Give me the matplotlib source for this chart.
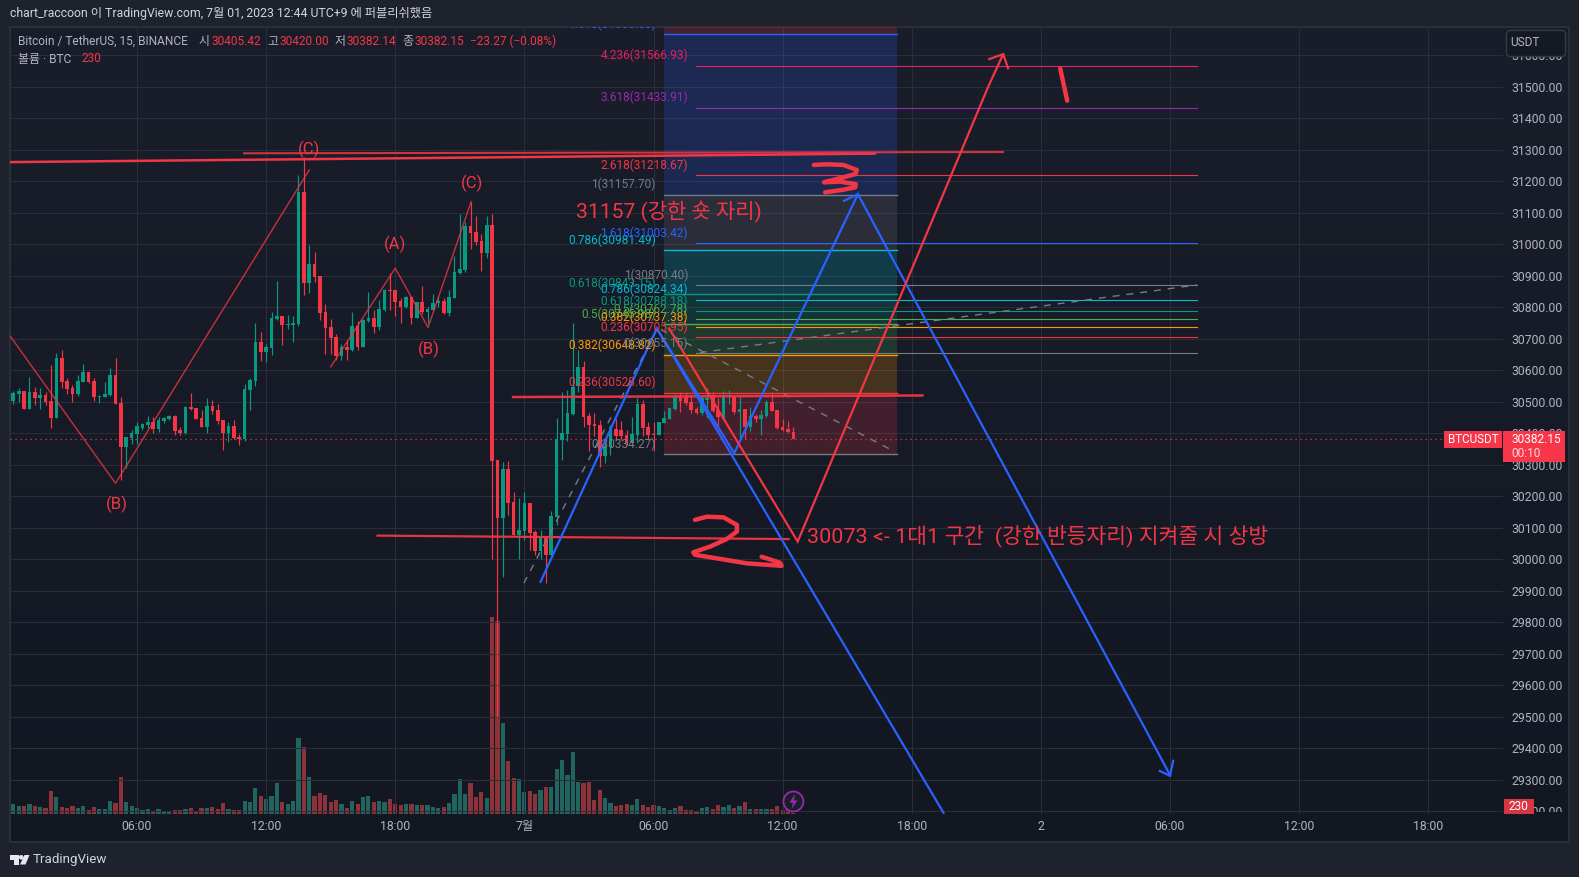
#!/usr/bin/env python
# coding: utf-8

import numpy as np
from matplotlib import pyplot as plt
from matplotlib.colors import to_rgb
from matplotlib.patches import Circle, FancyBboxPatch, Polygon, Rectangle

W, H = 1579, 877
BG_OUTER = '#1e222d'
UP = '#089981'
DOWN = '#f23645'
UP_VOL = '#22655f'
DOWN_VOL = '#8c3339'
GREY = '#787b86'
TEXT = '#b2b5be'
BLUE = '#2962ff'
FONT = ['Roboto', 'Noto Sans CJK KR', 'DejaVu Sans']

opens = [30502, 30525, 30534, 30477, 30531, 30512, 30521, 30502, 30448, 30639, 30566, 30544, 30525, 30563, 30594, 30566,
         30515, 30515, 30521, 30585, 30496, 30356, 30385, 30398, 30417, 30426, 30436, 30414, 30439, 30445, 30455, 30410,
         30401, 30483, 30480, 30448, 30420, 30487, 30474, 30442, 30401, 30423, 30388, 30382, 30537, 30566, 30690, 30658,
         30671, 30763, 30772, 30744, 30744, 30747, 31166, 30877, 30937, 30899, 30785, 30737, 30706, 30645, 30674, 30664,
         30741, 30674, 30757, 30766, 30737, 30791, 30855, 30855, 30820, 30801, 30833, 30766, 30817, 30785, 30791, 30814,
         30820, 30782, 30829, 30909, 30918, 31058, 31039, 31010, 30972, 31061, 30316, 30131, 30287, 30182, 30077, 30090,
         30179, 30087, 30027, 30068, 30014, 30134, 30379, 30398, 30462, 30551, 30611, 30455, 30429, 30426, 30328, 30355,
         30413, 30410, 30394, 30368, 30394, 30493, 30420, 30398, 30394, 30433, 30445, 30477, 30518, 30516, 30498, 30477,
         30463, 30506, 30516, 30474, 30445, 30514, 30516, 30468, 30477, 30421, 30455, 30445, 30455, 30499, 30474, 30419,
         30413, 30405.42]
highs = [30534, 30544, 30534, 30579, 30547, 30544, 30531, 30617, 30655, 30664, 30575, 30553, 30585, 30620, 30594, 30575,
         30521, 30563, 30607, 30639, 30515, 30388, 30410, 30436, 30433, 30455, 30452, 30452, 30452, 30458, 30458, 30420,
         30487, 30528, 30480, 30474, 30512, 30506, 30493, 30442, 30436, 30442, 30398, 30556, 30575, 30750, 30721, 30683,
         30785, 30883, 30772, 30776, 30772, 31220, 31277, 30998, 30975, 30899, 30810, 30763, 30715, 30683, 30696, 30785,
         30757, 30763, 30849, 30791, 30823, 30858, 30909, 30855, 30829, 30836, 30836, 30817, 30868, 30801, 30842, 30836,
         30829, 30855, 30963, 31096, 31071, 31134, 31090, 31033, 31090, 31096, 30316, 30309, 30312, 30214, 30195, 30214,
         30179, 30093, 30093, 30068, 30154, 30448, 30531, 30537, 30751, 30665, 30630, 30463, 30463, 30442, 30368, 30426,
         30445, 30439, 30410, 30452, 30512, 30506, 30436, 30436, 30436, 30471, 30480, 30525, 30531, 30529, 30518, 30484,
         30521, 30544, 30531, 30511, 30535, 30537, 30516, 30516, 30477, 30484, 30460, 30474, 30506, 30530, 30474, 30445,
         30439, 30420.00]
lows = [30493, 30499, 30477, 30477, 30490, 30477, 30490, 30417, 30448, 30544, 30525, 30499, 30518, 30563, 30560, 30502,
        30496, 30515, 30518, 30493, 30252, 30290, 30366, 30366, 30410, 30417, 30401, 30404, 30433, 30442, 30394, 30394,
        30398, 30474, 30445, 30420, 30401, 30461, 30429, 30347, 30372, 30382, 30363, 30375, 30474, 30550, 30629, 30626,
        30648, 30760, 30680, 30731, 30690, 30741, 30839, 30845, 30880, 30760, 30652, 30652, 30633, 30633, 30633, 30661,
        30664, 30674, 30753, 30718, 30728, 30788, 30791, 30772, 30750, 30798, 30747, 30766, 30779, 30750, 30791, 30801,
        30779, 30772, 30829, 30906, 30912, 30985, 30998, 30915, 30956, 30001, 29500, 29944, 30141, 30077, 30001, 30062,
        30030, 30014, 30001, 29925, 30014, 30109, 30315, 30375, 30459, 30530, 30420, 30344, 30391, 30292, 30307, 30331,
        30381, 30379, 30363, 30368, 30368, 30391, 30379, 30344, 30394, 30431, 30445, 30474, 30468, 30490, 30463, 30461,
        30458, 30447, 30468, 30421, 30445, 30493, 30461, 30384, 30381, 30408, 30435, 30394, 30453, 30471, 30412, 30408,
        30402, 30382.14]
closes = [30528, 30534, 30477, 30531, 30512, 30521, 30499, 30448, 30639, 30563, 30541, 30525, 30566, 30594, 30563, 30515,
          30518, 30525, 30585, 30493, 30356, 30388, 30401, 30423, 30429, 30436, 30414, 30442, 30448, 30455, 30407, 30401,
          30483, 30477, 30445, 30420, 30487, 30471, 30439, 30401, 30423, 30385, 30382, 30541, 30569, 30690, 30658, 30674,
          30766, 30772, 30744, 30747, 30750, 31166, 30877, 30937, 30896, 30782, 30734, 30703, 30645, 30674, 30664, 30741,
          30674, 30760, 30766, 30737, 30795, 30855, 30852, 30817, 30801, 30833, 30766, 30817, 30785, 30795, 30814, 30820,
          30782, 30833, 30912, 30922, 31058, 31036, 31007, 30972, 31061, 30312, 30131, 30287, 30179, 30077, 30093, 30179,
          30084, 30027, 30068, 30014, 30138, 30382, 30401, 30464, 30547, 30611, 30452, 30426, 30423, 30328, 30358, 30420,
          30391, 30391, 30368, 30398, 30493, 30417, 30394, 30394, 30436, 30448, 30480, 30518, 30502, 30495, 30474, 30463,
          30512, 30512, 30471, 30453, 30514, 30516, 30466, 30477, 30421, 30455, 30445, 30458, 30500, 30471, 30416, 30410,
          30403, 30382.15]
volumes = [3000, 2400, 2400, 3000, 2400, 2000, 1800, 6900, 5100, 2100, 1800, 2400, 1800, 2400, 1200, 2100, 1500, 1500,
           3900, 3300, 11100, 3600, 2400, 1800, 1200, 1500, 900, 1500, 900, 900, 1200, 1200, 1500, 1800, 900, 1800, 1800,
           2100, 1500, 3300, 1500, 1200, 1200, 3900, 3600, 7800, 5400, 4500, 5400, 9300, 3600, 3000, 3900, 22800, 20100,
           11100, 5400, 6300, 5700, 3600, 4200, 3000, 1800, 3900, 3000, 5100, 5400, 3600, 3900, 3600, 4500, 3000, 2700,
           3000, 3000, 2700, 2700, 2700, 2100, 1800, 2100, 3300, 6000, 10500, 6000, 9300, 5100, 6600, 4800, 59100, 57900,
           27300, 15900, 10800, 10500, 6600, 6900, 6000, 7200, 8100, 8100, 13500, 16200, 11700, 18600, 9600, 9300, 9600,
           4200, 7200, 4800, 3300, 2400, 2700, 3000, 2700, 4500, 2700, 2100, 2700, 2400, 1800, 1200, 1800, 2400, 1200,
           1200, 900, 1800, 2100, 1500, 2700, 2100, 2700, 1800, 2400, 3600, 1500, 1500, 1500, 1500, 1500, 2400, 1200,
           1500, 230]

price_ticks = list(range(29200, 31700, 100))
time_ticks = [23, 47, 71, 95, 119, 143, 167, 191, 215, 239, 263]
time_labels = ['06:00', '12:00', '18:00', '7월', '06:00', '12:00', '18:00', '2', '06:00', '12:00', '18:00']

# fib retracement drawn over the late session
retr_levels = [0, 0.236, 0.382, 0.5, 0.618, 0.786, 1, 1.618, 2.618]
retr_prices = [30334.27, 30528.60, 30648.82, 30745.98, 30843.15, 30981.49, 31157.70, 31666.60, 32490.00]
retr_colors = [GREY, DOWN, '#ff9800', '#4caf50', UP, '#00bcd4', GREY, BLUE, DOWN]
retr_bars = [120.9, 164.2]

# fib extension
ext_levels = [0, 0.236, 0.382, 0.5, 0.618, 0.786, 1, 1.618, 2.618, 3.618, 4.236]
ext_prices = [30655.15, 30705.95, 30737.38, 30762.78, 30788.18, 30824.34, 30870.40, 31003.42, 31218.67, 31433.91, 31566.93]
ext_colors = [GREY, DOWN, '#ff9800', '#4caf50', UP, '#00bcd4', GREY, BLUE, DOWN, '#9c27b0', '#e91e63']
ext_bars = [126.9, 220.0]

# wave counts, thin red
wave1_x = [-0.6, 19.0, 55.0]
wave1_y = [30709, 30241, 31236]
wave2_x = [59.0, 71.0, 77.1, 85.1]
wave2_y = [30611, 30924, 30736, 31135]
wave_labels = ['(C)', '(C)', '(A)', '(B)', '(B)']
wave_label_x = [55.0, 85.2, 71.0, 77.3, 19.2]
wave_label_y = [31300, 31195, 31000, 30667, 30175]

# trend lines and scenario paths
top_line_x = [[-0.6, 160.2], [42.9, 184.0]]
top_line_y = [[31261, 31288], [31289, 31293]]
mid_line_x = [92.9, 169.0]
mid_line_y = [30515, 30520]
low_line_x = [67.7, 144.1]
low_line_y = [30075, 30064]
dash1_x = [94.9, 119.8, 163.9]
dash1_y = [29924, 30734, 30341]
dash2_x = [127.6, 220.0]
dash2_y = [30656, 30871]
blue_x = [98.0, 119.6, 134.0, 157.0, 215.0]
blue_y = [29928, 30733, 30337, 31159, 29315]
blue2_x = [119.6, 172.9]
blue2_y = [30733, 29195]
blue_barb_x = [213.1, 215.0, 215.6]
blue_barb_y = [29328, 29312, 29360]
blue_peak_x = [154.4, 157.0]
blue_peak_y = [31138, 31159]
red_x = [121.9, 145.8, 181.2, 184.0]
red_y = [30733, 30056, 31500, 31604]
red_barb_x = [181.4, 184.0, 184.9]
red_barb_y = [31588, 31604, 31559]

# freehand numbers
three_x = [148.8, 151.2, 154.3, 156.8, 156.5, 153.7, 150.7, 153.7, 156.6, 156.5, 154.2, 150.9]
three_y = [31252, 31254, 31252, 31236, 31223, 31210, 31197, 31199, 31191, 31181, 31173, 31165]
two_x = [126.7, 128.9, 132.0, 134.5, 134.5, 132.6, 129.5, 126.4, 126.7, 131.4, 136.3, 142.8, 142.5, 139.1]
two_y = [30125, 30135, 30133, 30109, 30088, 30064, 30040, 30022, 30014, 30001, 29987, 29979, 29989, 30008]
one_x = [194.6, 195.9]
one_y = [31558, 31456]


def main():
    fig = plt.figure(figsize=(W / 100, H / 100), dpi=100, facecolor=BG_OUTER)

    # backdrop with frame, in pixels
    bg = fig.add_axes([0, 0, 1, 1], zorder=0)
    top_c, bot_c = np.array(to_rgb('#1a1e2a')), np.array(to_rgb('#131722'))
    grad = np.linspace(0, 1, 256)[:, None, None] * (bot_c - top_c) + top_c
    bg.imshow(grad, extent=(10, 1569, 841, 27), aspect='auto', zorder=0)
    bg.add_patch(Rectangle((9.5, 26.5), 1559.5, 815, fill=False, ec='#2a2e39', lw=1.5, zorder=1))
    bg.set_xlim(0, W)
    bg.set_ylim(H, 0)
    bg.axis('off')

    rect = [10 / W, 1 - 814 / H, 1493 / W, 787 / H]

    vol = fig.add_axes(rect, zorder=1)
    vol.patch.set_visible(False)
    vol.axis('off')

    ax = fig.add_axes(rect, zorder=2, sharex=vol)
    ax.patch.set_visible(False)
    ax.set_xlim(-0.613, 276.9)
    ax.set_ylim(29191, 31690)
    for s in ax.spines.values():
        s.set_visible(False)
    ax.yaxis.tick_right()
    ax.set_yticks(price_ticks, [f'{p:.2f}' for p in price_ticks], fontsize=8.8, color=TEXT, family=FONT)
    ax.set_xticks(time_ticks, time_labels, fontsize=8.8, color=TEXT, family=FONT)
    ax.tick_params(axis='y', length=0, pad=5.8)
    ax.tick_params(axis='x', length=0, pad=4.6)
    ax.grid(True, color='#2a2e39', lw=0.75, zorder=0)
    ax.set_axisbelow(True)

    bars = np.arange(len(closes))
    colors = [UP if c >= o else DOWN for o, c in zip(opens, closes)]

    # volume pane along the bottom
    vol_colors = [UP_VOL if c >= o else DOWN_VOL for o, c in zip(opens, closes)]
    vol.bar(bars, volumes, width=0.78, color=vol_colors, lw=0)
    vol.set_ylim(0, 787 * 300)

    # fib retracement bands take the colour of their upper level
    for lo, hi, c in zip(retr_prices[:-1], retr_prices[1:], retr_colors[1:]):
        ax.fill_between(retr_bars, lo, hi, color=c, alpha=0.2, lw=0, zorder=1)
    for lvl, p, c in zip(retr_levels[:-1], retr_prices[:-1], retr_colors[:-1]):
        ax.plot(retr_bars, [p, p], color=c, lw=1.0, zorder=2)
        ax.annotate(f'{lvl:g}({p:.2f})', (retr_bars[0], p), xytext=(-8, 10), textcoords='offset pixels',
                    ha='right', va='center', color=c, fontsize=8.6, family=FONT, zorder=7, clip_on=True)

    # candles
    ax.vlines(bars, lows, highs, colors=colors, lw=0.85, zorder=3)
    body_lo = np.minimum(opens, closes)
    body_hi = np.maximum(opens, closes)
    ax.bar(bars, np.maximum(body_hi - body_lo, 3), bottom=body_lo, width=0.68, color=colors, lw=0, zorder=4)

    # last price line
    ax.axhline(closes[-1], color=DOWN, lw=0.9, ls=(0, (1, 3)), zorder=2)

    # fib extension
    for lvl, p, c in zip(ext_levels, ext_prices, ext_colors):
        ax.plot(ext_bars, [p, p], color=c, lw=0.8, zorder=5)
        ax.annotate(f'{lvl:g}({p:.2f})', (ext_bars[0], p), xytext=(-8, 10), textcoords='offset pixels',
                    ha='right', va='center', color=c, fontsize=8.6, family=FONT, zorder=7, clip_on=True)

    # dashed fib base lines
    ax.plot(dash1_x, dash1_y, color=GREY, lw=1.0, ls=(0, (5, 5)), zorder=5)
    ax.plot(dash2_x, dash2_y, color=GREY, lw=1.0, ls=(0, (5, 5)), zorder=5)

    # wave counts
    ax.plot(wave1_x, wave1_y, color=DOWN, lw=1.0, alpha=0.8, zorder=5)
    ax.plot(wave2_x, wave2_y, color=DOWN, lw=1.0, alpha=0.8, zorder=5)
    for t, x, y in zip(wave_labels, wave_label_x, wave_label_y):
        ax.text(x, y, t, color=DOWN, fontsize=12, ha='center', va='center', family=FONT, zorder=7)

    # support and resistance lines
    ax.plot(top_line_x[0], top_line_y[0], color=DOWN, lw=1.8, zorder=6, solid_capstyle='round')
    ax.plot(top_line_x[1], top_line_y[1], color=DOWN, lw=1.5, alpha=0.85, zorder=6)
    ax.plot(mid_line_x, mid_line_y, color=DOWN, lw=1.8, alpha=0.95, zorder=6)
    ax.plot(low_line_x, low_line_y, color=DOWN, lw=1.6, alpha=0.95, zorder=6)

    # scenario paths
    ax.plot(blue_x, blue_y, color=BLUE, lw=1.6, zorder=6, solid_joinstyle='miter')
    ax.plot(blue2_x, blue2_y, color=BLUE, lw=1.6, zorder=6)
    ax.plot(blue_barb_x, blue_barb_y, color=BLUE, lw=1.6, zorder=6)
    ax.plot(blue_peak_x, blue_peak_y, color=BLUE, lw=1.6, zorder=6)
    ax.plot(red_x, red_y, color=DOWN, lw=1.6, zorder=6, solid_joinstyle='miter')
    ax.plot(red_barb_x, red_barb_y, color=DOWN, lw=1.6, zorder=6)

    # freehand numbers
    ax.plot(three_x, three_y, color=DOWN, lw=3.2, zorder=7, solid_joinstyle='round', solid_capstyle='round')
    ax.plot(two_x, two_y, color=DOWN, lw=3.2, zorder=7, solid_joinstyle='round', solid_capstyle='round')
    ax.plot(one_x, one_y, color=DOWN, lw=3.2, zorder=7, solid_capstyle='round')

    ax.text(104.6, 31104, '31157 (강한 숏 자리)', color=DOWN, fontsize=15.1, va='center', family=FONT, zorder=7)
    ax.text(147.5, 30074, '30073 <- 1대1 구간  (강한 반등자리) 지켜줄 시 상방', color=DOWN, fontsize=15.45,
            va='center', family=FONT, zorder=7)

    # header, legend and tags in pixels
    top = fig.add_axes([0, 0, 1, 1], zorder=5)
    top.patch.set_visible(False)
    top.set_xlim(0, W)
    top.set_ylim(H, 0)
    top.axis('off')

    def label(x, y, s, color='#d1d4dc', size=8.6, ha='left'):
        top.text(x, y, s, color=color, fontsize=size, ha=ha, va='center', family=FONT)

    label(9.5, 14, 'chart_raccoon 이 TradingView.com, 7월 01, 2023 12:44 UTC+9 에 퍼블리쉬했음', size=8.85)
    label(17.9, 41.7, 'Bitcoin / TetherUS, 15, BINANCE', color=TEXT)
    for x, s in zip([199, 267, 334.6, 402.5], ['시', '고', '저', '종']):
        label(x, 41.7, s, color=TEXT)
    for x, s in zip([211.4, 279.3, 346.8, 414.3, 470],
                    [f'{opens[-1]:.2f}', f'{highs[-1]:.2f}', f'{lows[-1]:.2f}', f'{closes[-1]:.2f}', '−23.27 (−0.08%)']):
        label(x, 41.7, s, color=DOWN)
    label(17.9, 59, '볼륨 · BTC', color=TEXT)
    label(82, 59, f'{volumes[-1]}', color=DOWN)

    # covers the price scale below the pane
    top.add_patch(Rectangle((1503, 812), 65, 28, fc='#131722', ec='none'))

    top.add_patch(FancyBboxPatch((1509, 33), 54, 21, boxstyle='round,pad=2.5,rounding_size=4', fc='#151924', ec='#363a45', lw=1))
    label(1510, 43, 'USDT', color=TEXT)

    top.add_patch(Rectangle((1444, 431), 58, 17, fc='#f7364a', ec='none'))
    label(1473, 439.5, 'BTCUSDT', color='white', size=8.4, ha='center')
    top.add_patch(Rectangle((1503, 431), 62, 31, fc='#f7364a', ec='none'))
    label(1511, 439.5, f'{closes[-1]:.2f}', color='white')
    label(1511, 453.5, '00:10', color='#ffd9dd')

    top.add_patch(Rectangle((1503.5, 798.5), 30, 15.5, fc='#d93541', ec='none'))
    label(1518.5, 806.5, f'{volumes[-1]}', color='white', ha='center')

    # lightning badge on the last bar
    top.add_patch(Circle((793.4, 801.5), 10, fc='#1a1e2b', ec='#9c27b0', lw=1.3))
    top.add_patch(Polygon([(795, 794), (789.5, 802.5), (793, 802.5), (791.5, 809), (797.5, 800.5), (794, 800.5)],
                          fc='#9c27b0', ec='none'))

    # footer logo
    top.add_patch(Polygon([(9.5, 855), (18.5, 855), (18.5, 864.5), (14, 864.5), (14, 859.5), (9.5, 859.5)], fc='#e6e8ee', ec='none'))
    top.add_patch(Circle((21.2, 857.3), 2.3, fc='#e6e8ee', ec='none'))
    top.add_patch(Polygon([(24.5, 855), (29.5, 855), (25.5, 864.5), (20, 864.5)], fc='#e6e8ee', ec='none'))
    label(33, 859.5, 'TradingView', color='#d1d4dc', size=9.6)

    fig.savefig('out.png', dpi=100, facecolor=BG_OUTER)


if __name__ == '__main__':
    main()
